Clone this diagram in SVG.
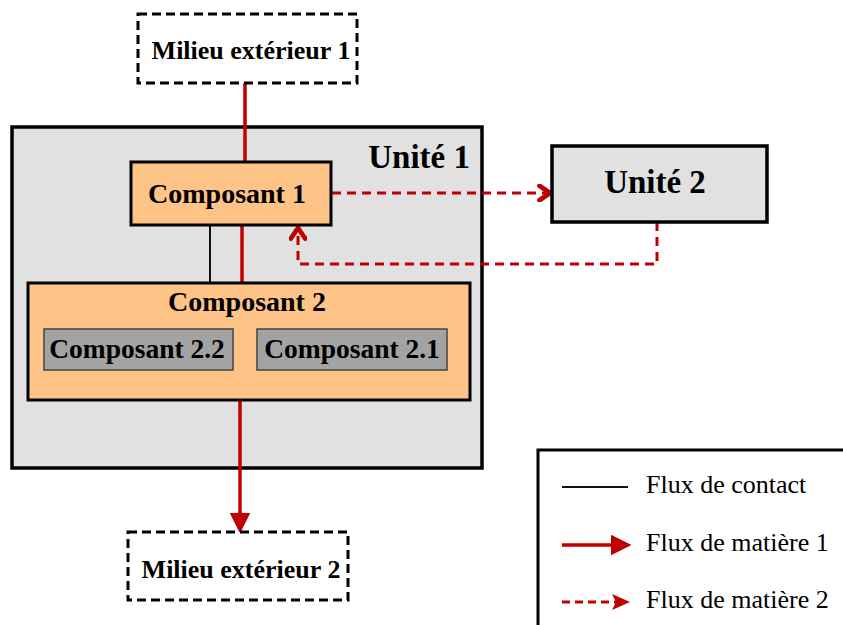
<svg xmlns="http://www.w3.org/2000/svg" width="843" height="625" viewBox="0 0 843 625">
<style>
.bt{font-family:"Liberation Serif","Times New Roman",serif;font-weight:bold;fill:#000}
.rt{font-family:"Liberation Serif","Times New Roman",serif;fill:#000}
.ext{fill:#fff;stroke:#000;stroke-width:3;stroke-dasharray:9 5}
.unit{fill:#e1e1e1;stroke:#000;stroke-width:3.5}
.comp{fill:#fec386;stroke:#000;stroke-width:3}
.sub{fill:#a3a3a3;stroke:#444;stroke-width:1.5}
.m1{stroke:#c00000;stroke-width:3.5;fill:none}
.m2{stroke:#c00000;stroke-width:3;fill:none;stroke-dasharray:9 6}
.ct{stroke:#111;stroke-width:2;fill:none}
</style>
<defs>
<marker id="ah" markerWidth="6" markerHeight="6" refX="5" refY="3" orient="auto" markerUnits="strokeWidth">
<path d="M0,0 L6,3 L0,6 Z" fill="#c00000"/>
</marker>
<marker id="chev" markerWidth="6" markerHeight="6" refX="4.5" refY="3" orient="auto" markerUnits="strokeWidth">
<path d="M1,0.6 L4.5,3 L1,5.4" fill="none" stroke="#c00000" stroke-width="1.6" stroke-linecap="round" stroke-linejoin="round"/>
</marker>
</defs>
<rect width="843" height="625" fill="#fff"/>
<g id="unite1">
<rect class="unit" x="12" y="127" width="470" height="341"/>
<text class="bt" x="470" y="168" font-size="33" text-anchor="end">Unité 1</text>
</g>
<g id="connectors">
<line class="m1" x1="245" y1="83" x2="245" y2="162"/>
<line class="m1" x1="242" y1="225" x2="242" y2="283"/>
<line class="ct" x1="210" y1="225" x2="210" y2="283"/>
<line class="m1" x1="240" y1="400" x2="240" y2="530" marker-end="url(#ah)"/>
<line class="m2" x1="332" y1="193" x2="550" y2="193" marker-end="url(#chev)"/>
<polyline class="m2" points="657,222 657,264 298,264 298,228" marker-end="url(#chev)"/>
</g>
<g id="milieu1">
<rect class="ext" x="138" y="14" width="219" height="69"/>
<text class="bt" x="251" y="59" font-size="26" text-anchor="middle">Milieu extérieur 1</text>
</g>
<g id="composant1">
<rect class="comp" x="131" y="162" width="200" height="63"/>
<text class="bt" x="227" y="203" font-size="28" text-anchor="middle">Composant 1</text>
</g>
<g id="composant2">
<rect class="comp" x="28" y="283" width="442" height="117"/>
<text class="bt" x="247" y="311" font-size="28" text-anchor="middle">Composant 2</text>
</g>
<g id="composant22">
<rect class="sub" x="44" y="329" width="189" height="41"/>
<text class="bt" x="137" y="358" font-size="27.5" text-anchor="middle">Composant 2.2</text>
</g>
<g id="composant21">
<rect class="sub" x="257" y="329" width="190" height="41"/>
<text class="bt" x="352" y="358" font-size="27.5" text-anchor="middle">Composant 2.1</text>
</g>
<g id="unite2">
<rect class="unit" x="552" y="146" width="215" height="76"/>
<text class="bt" x="655" y="193" font-size="33" text-anchor="middle">Unité 2</text>
</g>
<g id="milieu2">
<rect class="ext" x="128" y="532" width="220" height="68"/>
<text class="bt" x="241" y="578" font-size="26" text-anchor="middle">Milieu extérieur 2</text>
</g>
<g id="legend">
<rect x="538" y="450" width="320" height="190" fill="#fff" stroke="#000" stroke-width="3"/>
<line class="ct" x1="562" y1="487" x2="628" y2="487"/>
<text class="rt" x="646" y="493" font-size="26">Flux de contact</text>
<line class="m1" x1="562" y1="545" x2="628" y2="545" marker-end="url(#ah)"/>
<text class="rt" x="646" y="551" font-size="26">Flux de matière 1</text>
<line x1="562" y1="602" x2="618" y2="602" stroke="#c00000" stroke-width="3" stroke-dasharray="8 5"/>
<path d="M612,594 L630,602 L612,610 L616,602 Z" fill="#c00000"/>
<text class="rt" x="646" y="608" font-size="26">Flux de matière 2</text>
</g>
</svg>
